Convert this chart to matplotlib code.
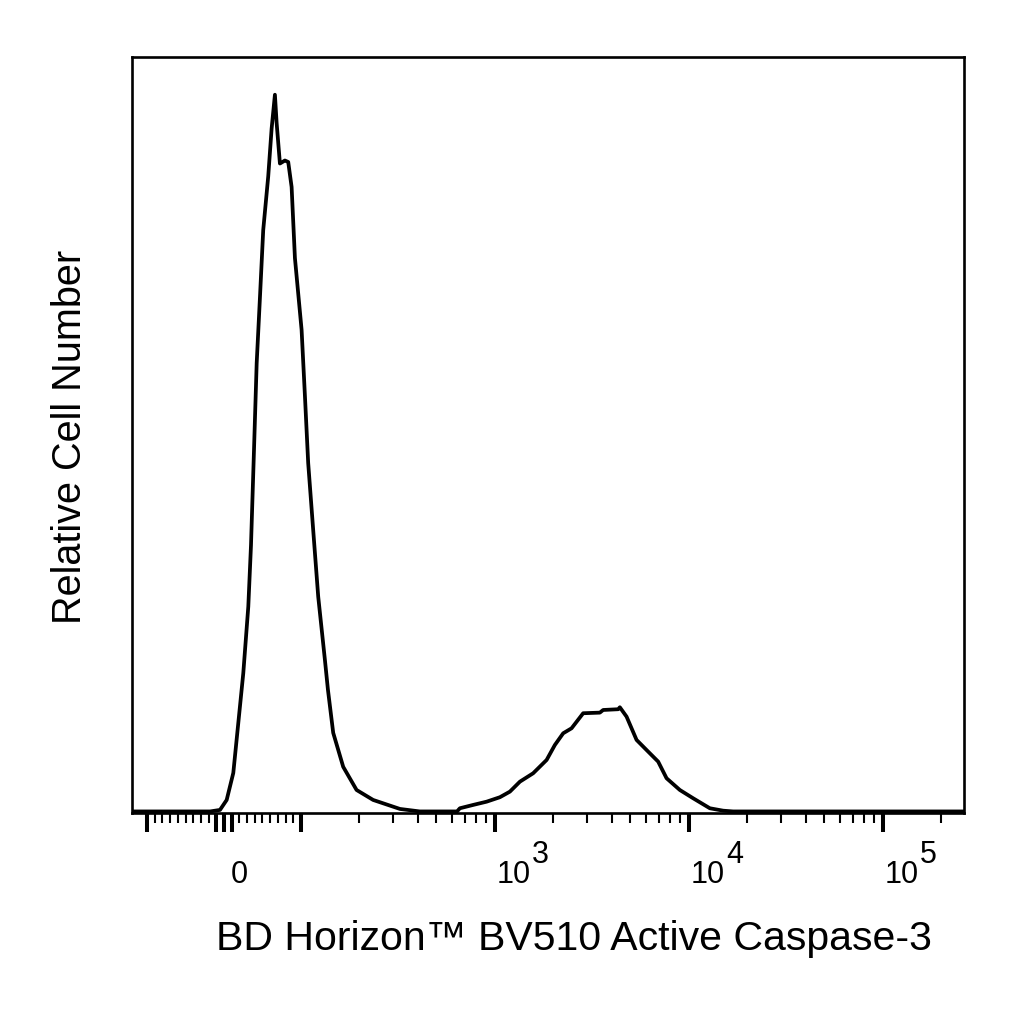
import matplotlib
matplotlib.use("Agg")
import matplotlib.pyplot as plt
from matplotlib.ticker import FixedLocator
from matplotlib.transforms import offset_copy

plt.rcParams['font.family'] = ['Liberation Sans', 'DejaVu Sans']

# histogram trace (fluorescence value, relative count)
caspase_values = [-120, -57, -18, -5.2, 3.5, 12.1, 18.6, 25.1, 31.6, 35.1, 39.0,
                  42.5, 46.8, 51.0, 57.5, 61.9, 66.2, 68.4, 72.7, 79.2, 83.5,
                  87.9, 92.2, 100.8, 104.9, 109.0, 115.7, 122.8, 133.0, 137.8,
                  146.7, 165.2, 193.6, 235.7, 299, 324, 410, 638, 660, 772, 906,
                  1061, 1195, 1346, 1575, 1848, 2038, 2250, 2485, 2852, 3477,
                  3616, 4321, 4408, 4774, 5376, 6051, 6947, 7675, 8984, 10527,
                  12831, 15029, 16923, 262144]
cell_counts = [0.2, 0.2, 0.2, 0.40, 1.72, 5.29, 11.9, 18.5, 27.3, 35.4, 48.0,
               59.5, 68.3, 77.1, 84.2, 90.5, 95.0, 91.3, 85.9, 86.3, 86.1,
               82.8, 73.4, 63.9, 55.1, 46.3, 37.4, 28.6, 20.2, 16.3,
               10.6, 6.1, 3.04, 1.72, 0.83, 0.53, 0.2, 0.2, 0.62, 1.06, 1.49,
               2.08, 2.82, 4.14, 5.25, 7.01, 8.99, 10.54, 11.2, 13.19, 13.27,
               13.62, 13.72, 13.98, 12.74, 9.66, 8.33, 6.79, 4.59, 3.04, 1.94,
               0.62, 0.30, 0.2, 0.2]

major_ticks = [-100, -10, 0, 10, 100, 1e3, 1e4, 1e5]
decade_labels = [(0, None), (1e3, "3"), (1e4, "4"), (1e5, "5")]

xlabel = "BD Horizon\u2122 BV510 Active Caspase-3"
ylabel = "Relative Cell Number"

minor_ticks = [s * k * 10 for s in (-1, 1) for k in range(2, 10)]
minor_ticks += [k * 10 ** e for e in (2, 3, 4) for k in range(2, 10)]
minor_ticks += [2e5]

fig = plt.figure(figsize=(10.24, 10.24), dpi=100)
ax = fig.add_axes([0.1286, 0.2061, 0.8128, 0.7383])

ax.plot(caspase_values, cell_counts, color="black", lw=2.7, solid_joinstyle="round")

ax.set_xscale("symlog", linthresh=100, linscale=0.357)
ax.set_xlim(-120, 262144)
ax.set_ylim(0, 100)

ax.xaxis.set_major_locator(FixedLocator(major_ticks))
ax.xaxis.set_minor_locator(FixedLocator(minor_ticks))
ax.tick_params(axis="x", which="major", direction="out", length=13.5, width=2.9,
               labelbottom=False)
ax.tick_params(axis="x", which="minor", direction="out", length=7, width=1.5)
ax.tick_params(axis="y", left=False, labelleft=False)
for sp in ax.spines.values():
    sp.set_linewidth(1.9)

trans = ax.get_xaxis_transform()
for val, sup in decade_labels:
    if sup is None:
        t = offset_copy(trans, fig=fig, x=15, y=-70, units="dots")
        ax.text(val, 0, "0", transform=t, ha="center", va="baseline", fontsize=22)
    else:
        t = offset_copy(trans, fig=fig, x=2, y=-70, units="dots")
        ax.text(val, 0, "10", transform=t, ha="left", va="baseline", fontsize=22)
        t2 = offset_copy(trans, fig=fig, x=37, y=-50, units="dots")
        ax.text(val, 0, sup, transform=t2, ha="left", va="baseline", fontsize=22)

fig.text(573.5 / 1024, 1 - 950 / 1024, xlabel, ha="center", va="baseline", fontsize=29.5)
fig.text(70 / 1024, 1 - 436.5 / 1024, ylabel, rotation=90, ha="center", va="center",
         fontsize=28.5)

fig.savefig("out.png", dpi=100)
